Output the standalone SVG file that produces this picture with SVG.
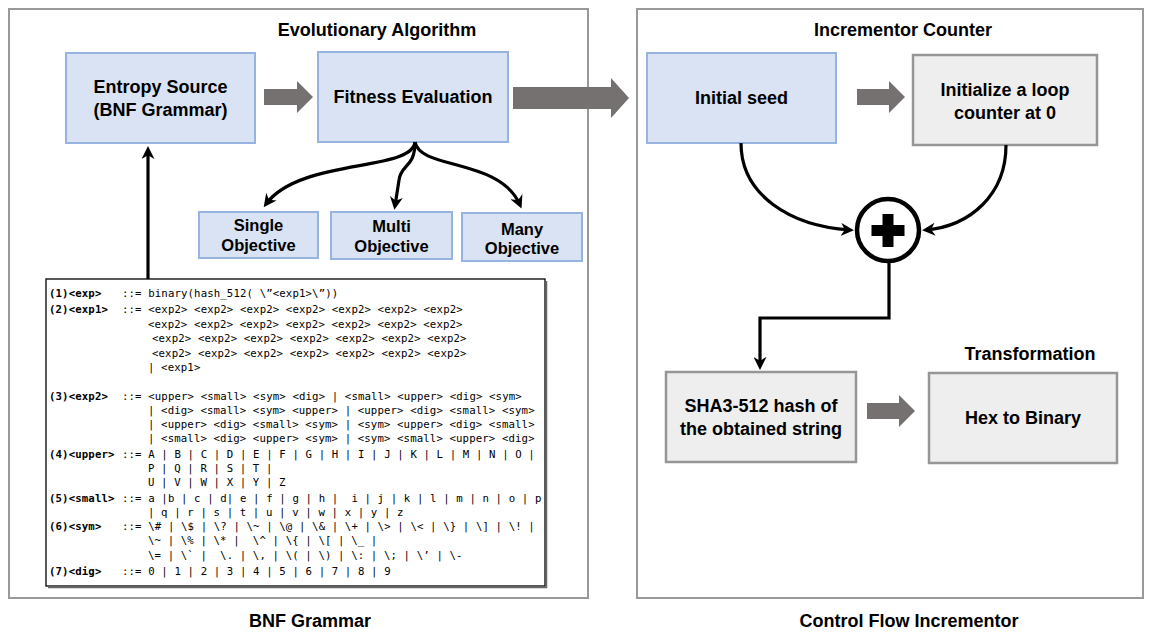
<svg xmlns="http://www.w3.org/2000/svg" width="1149" height="633" viewBox="0 0 1149 633">
<style>
.outer{fill:#fff;stroke:#999;stroke-width:2}
.blue{fill:#dae3f3;stroke:#97b3e0;stroke-width:2}
.gray{fill:#eeeeee;stroke:#969696;stroke-width:2.5}
.lbl{font-family:"Liberation Sans",Arial,sans-serif;font-weight:bold;font-size:18px;fill:#000;text-anchor:middle}
.obj{font-size:16.5px}
.ttl{font-size:18px}
.blk{fill:#767171}
.con{fill:none;stroke:#000;stroke-width:3.2}
.g{font-family:"DejaVu Sans Mono","Liberation Mono",monospace;font-size:10.7px;letter-spacing:0.12px;fill:#000;white-space:pre}
.gb{font-weight:bold}
</style>
<defs>
<marker id="ah" viewBox="0 0 10 10" refX="7" refY="5" markerWidth="13" markerHeight="13" markerUnits="userSpaceOnUse" orient="auto">
<path d="M0,0 L10,5 L0,10 L3,5 z" fill="#000"/>
</marker>
</defs>

<g id="panel-left">
<rect class="outer" x="9" y="9" width="579" height="589"/>
<text class="lbl ttl" x="377" y="36">Evolutionary Algorithm</text>
</g>
<g id="panel-right">
<rect class="outer" x="637" y="9" width="506" height="589"/>
<text class="lbl ttl" x="903" y="36">Incrementor Counter</text>
<text class="lbl ttl" x="1030" y="360">Transformation</text>
</g>

<g id="entropy">
<rect class="blue" x="66" y="53" width="189" height="90"/>
<text class="lbl" x="160.5" y="93">Entropy Source</text>
<text class="lbl" x="160.5" y="116">(BNF Grammar)</text>
</g>
<g id="fitness">
<rect class="blue" x="318" y="52" width="190" height="90"/>
<text class="lbl" x="413" y="103">Fitness Evaluation</text>
</g>
<g id="single">
<rect class="blue" x="199" y="212" width="119" height="46"/>
<text class="lbl obj" x="258.5" y="231">Single</text>
<text class="lbl obj" x="258.5" y="251">Objective</text>
</g>
<g id="multi">
<rect class="blue" x="331" y="212" width="121" height="47"/>
<text class="lbl obj" x="391.5" y="232">Multi</text>
<text class="lbl obj" x="391.5" y="252">Objective</text>
</g>
<g id="many">
<rect class="blue" x="462" y="213" width="120" height="48"/>
<text class="lbl obj" x="522" y="235">Many</text>
<text class="lbl obj" x="522" y="254">Objective</text>
</g>
<g id="seed">
<rect class="blue" x="647" y="53" width="189" height="90"/>
<text class="lbl" x="741.5" y="104">Initial seed</text>
</g>
<g id="loop">
<rect class="gray" x="913" y="55" width="184" height="90"/>
<text class="lbl" x="1005" y="96">Initialize a loop</text>
<text class="lbl" x="1005" y="119">counter at 0</text>
</g>
<g id="sum">
<circle cx="888" cy="230" r="31" fill="#fff" stroke="#000" stroke-width="4.5"/>
<path d="M882.5,214 h11 v11 h11 v11 h-11 v11 h-11 v-11 h-11 v-11 h11 z" fill="#000"/>
</g>
<g id="sha">
<rect class="gray" x="666" y="372" width="190" height="90"/>
<text class="lbl" x="761" y="412">SHA3-512 hash of</text>
<text class="lbl" x="761" y="435">the obtained string</text>
</g>
<g id="hex">
<rect class="gray" x="929" y="373" width="188" height="90"/>
<text class="lbl" x="1023" y="424">Hex to Binary</text>
</g>

<g id="grammar">
<rect x="46" y="279" width="499" height="307" fill="#fff" stroke="#000" stroke-width="1.3"/>
<path d="M546.5,281 V587.5 H48" fill="none" stroke="#666" stroke-width="1.5"/>
<text class="g gb" x="49" y="297">(1)&lt;exp&gt;</text><text class="g" x="122" y="297">::= binary(hash_512( \”&lt;exp1&gt;\”))</text>
<text class="g gb" x="49" y="313">(2)&lt;exp1&gt;</text><text class="g" x="122" y="313">::= &lt;exp2&gt; &lt;exp2&gt; &lt;exp2&gt; &lt;exp2&gt; &lt;exp2&gt; &lt;exp2&gt; &lt;exp2&gt;</text>
<text class="g" x="148" y="328">&lt;exp2&gt; &lt;exp2&gt; &lt;exp2&gt; &lt;exp2&gt; &lt;exp2&gt; &lt;exp2&gt; &lt;exp2&gt;</text>
<text class="g" x="152" y="342">&lt;exp2&gt; &lt;exp2&gt; &lt;exp2&gt; &lt;exp2&gt; &lt;exp2&gt; &lt;exp2&gt; &lt;exp2&gt;</text>
<text class="g" x="152" y="357">&lt;exp2&gt; &lt;exp2&gt; &lt;exp2&gt; &lt;exp2&gt; &lt;exp2&gt; &lt;exp2&gt; &lt;exp2&gt;</text>
<text class="g" x="148" y="371">| &lt;exp1&gt;</text>
<text class="g gb" x="49" y="400">(3)&lt;exp2&gt;</text><text class="g" x="122" y="400">::= &lt;upper&gt; &lt;small&gt; &lt;sym&gt; &lt;dig&gt; | &lt;small&gt; &lt;upper&gt; &lt;dig&gt; &lt;sym&gt;</text>
<text class="g" x="148" y="414">| &lt;dig&gt; &lt;small&gt; &lt;sym&gt; &lt;upper&gt; | &lt;upper&gt; &lt;dig&gt; &lt;small&gt; &lt;sym&gt;</text>
<text class="g" x="148" y="428">| &lt;upper&gt; &lt;dig&gt; &lt;small&gt; &lt;sym&gt; | &lt;sym&gt; &lt;upper&gt; &lt;dig&gt; &lt;small&gt;</text>
<text class="g" x="148" y="442">| &lt;small&gt; &lt;dig&gt; &lt;upper&gt; &lt;sym&gt; | &lt;sym&gt; &lt;small&gt; &lt;upper&gt; &lt;dig&gt;</text>
<text class="g gb" x="49" y="458">(4)&lt;upper&gt;</text><text class="g" x="122" y="458">::= A | B | C | D | E | F | G | H | I | J | K | L | M | N | O |</text>
<text class="g" x="148" y="472">P | Q | R | S | T |</text>
<text class="g" x="148" y="486">U | V | W | X | Y | Z</text>
<text class="g gb" x="49" y="502">(5)&lt;small&gt;</text><text class="g" x="122" y="502">::= a |b | c | d| e | f | g | h |  i | j | k | l | m | n | o | p</text>
<text class="g" x="148" y="516">| q | r | s | t | u | v | w | x | y | z</text>
<text class="g gb" x="49" y="530">(6)&lt;sym&gt;</text><text class="g" x="122" y="530">::= \# | \$ | \? | \~ | \@ | \&amp; | \+ | \&gt; | \&lt; | \} | \] | \! |</text>
<text class="g" x="148" y="544">\~ | \% | \* |  \^ | \{ | \[ | \_ |</text>
<text class="g" x="148" y="559">\= | \` |  \. | \, | \( | \) | \: | \; | \’ | \-</text>
<text class="g gb" x="49" y="575">(7)&lt;dig&gt;</text><text class="g" x="122" y="575">::= 0 | 1 | 2 | 3 | 4 | 5 | 6 | 7 | 8 | 9</text>
</g>

<g id="connectors">
<path class="blk" d="M264,89 H297 V81 L313,97 L297,113 V105 H264 Z"/>
<path class="blk" d="M513,87 H611 V78 L629,98 L611,118 V109 H513 Z"/>
<path class="blk" d="M857,89 H889 V81 L905,97 L889,113 V105 H857 Z"/>
<path class="blk" d="M867,403 H899 V395 L915,411 L899,427 V419 H867 Z"/>
<path class="con" d="M148,279 V150" marker-end="url(#ah)"/>
<path class="con" d="M415,142 C412,172 300,158 266,204" marker-end="url(#ah)"/>
<path class="con" d="M415,142 C415,168 401,164 399,180 L395,206" marker-end="url(#ah)"/>
<path class="con" d="M415,142 C420,170 500,158 520,205" marker-end="url(#ah)"/>
<path class="con" d="M741,143 C741,195 790,226 850,230" marker-end="url(#ah)"/>
<path class="con" d="M1006,145 C1006,195 970,226 926,230" marker-end="url(#ah)"/>
<path class="con" d="M889,261 V318 H760 V366" marker-end="url(#ah)"/>
</g>

<g id="captions">
<text class="lbl" x="310" y="627">BNF Grammar</text>
<text class="lbl" x="909" y="627">Control Flow Incrementor</text>
</g>
</svg>
